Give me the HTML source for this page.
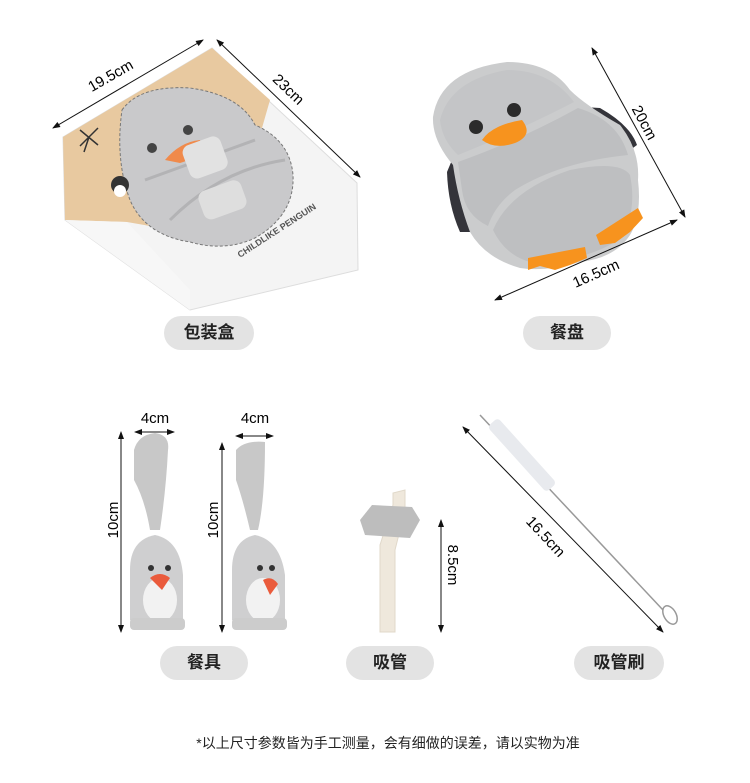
<!DOCTYPE html>
<html><head><meta charset="utf-8"><style>
body{margin:0;background:#fff;width:750px;height:783px;overflow:hidden;font-family:"Liberation Sans","Noto Sans CJK SC",sans-serif}
.pill{position:absolute;height:34px;line-height:34px;border-radius:17px;background:#e3e3e3;font-size:17px;color:#222;text-align:center;font-weight:bold}
</style></head><body>
<svg width="750" height="783" style="position:absolute;left:0;top:0" font-family="Liberation Sans, sans-serif">
<defs>
<marker id="a" markerWidth="8" markerHeight="8" refX="7" refY="4" orient="auto-start-reverse"><path d="M0,1 L8,4 L0,7z" fill="#111"/></marker>
</defs>
<!-- box -->
<polygon points="63,137 212,48 357,183 358,270 190,310 65,220" fill="#f4f4f4" stroke="#ddd"/>
<polygon points="63,137 212,48 270,100 230,240 127,222 65,220" fill="#e8c9a0"/>
<polygon points="65,220 127,222 190,290 190,310" fill="#f7f7f7"/>
<path d="M122,110 Q140,85 190,88 Q240,95 255,125 Q290,140 293,175 Q295,215 255,238 Q225,252 190,242 Q145,235 130,200 Q115,160 122,110z" fill="#c9c9cb" stroke="#777" stroke-dasharray="3,2"/>
<circle cx="152" cy="148" r="5" fill="#444"/><circle cx="188" cy="130" r="5" fill="#444"/>
<path d="M165,160 Q180,142 200,140 Q207,155 180,163z" fill="#f08a4b"/>
<path d="M145,180 Q200,160 255,140 M170,220 Q220,170 285,160" stroke="#b3b3b5" stroke-width="3" fill="none"/>
<rect x="185" y="140" width="40" height="35" rx="8" fill="#e2e2e2" transform="rotate(-20 205 157)"/>
<rect x="200" y="185" width="45" height="30" rx="8" fill="#dedede" transform="rotate(-20 222 200)"/>
<path d="M80,130 l18,15 M98,128 l-18,18 M89,137 l-5,15" stroke="#333" stroke-width="1.5"/>
<circle cx="120" cy="185" r="9" fill="#333"/><ellipse cx="120" cy="191" rx="6" ry="6" fill="#fff"/>
<text x="240" y="258" font-size="9" font-weight="bold" fill="#555" transform="rotate(-33 240 258)">CHILDLIKE PENGUIN</text>
<!-- box dims -->
<line x1="53" y1="128" x2="203" y2="40" stroke="#111" marker-start="url(#a)" marker-end="url(#a)"/>
<text x="113" y="80" font-size="15" text-anchor="middle" transform="rotate(-30 113 80)">19.5cm</text>
<line x1="217" y1="40" x2="360" y2="177" stroke="#111" marker-start="url(#a)" marker-end="url(#a)"/>
<text x="285" y="93" font-size="15" text-anchor="middle" transform="rotate(44 285 93)">23cm</text>
<!-- plate -->
<path d="M447,172 L452,160 L470,180 L470,232 L460,232 Q448,205 447,172z" fill="#34343a"/>
<path d="M583,107 L600,108 Q630,125 637,145 L630,150 Q610,130 583,125z" fill="#34343a"/>
<path d="M433,117 Q440,70 507,62 Q550,62 570,90 Q585,105 620,125 Q640,150 638,180 Q642,215 630,235 Q615,258 580,262 Q545,272 520,268 Q485,258 470,232 Q458,200 453,165 Q432,140 433,117z" fill="#cbcccd"/>
<path d="M440,120 Q450,80 507,70 Q550,70 574,102 Q520,130 458,155 Q442,140 440,120z" fill="#c4c5c7"/>
<path d="M458,162 Q520,140 578,108 Q618,120 628,155 Q560,162 515,190 Q495,205 488,226 Q465,215 462,190z" fill="#bebfc1"/>
<path d="M493,230 Q510,190 570,170 Q620,160 630,175 Q638,215 618,240 Q585,262 530,262 Q505,255 493,230z" fill="#bebfc1"/>
<circle cx="476" cy="127" r="7" fill="#2b2b2b"/><circle cx="514" cy="110" r="7" fill="#2b2b2b"/>
<path d="M482,140 Q492,125 522,120 Q534,135 515,143 Q495,150 482,140z" fill="#f7931e"/>
<path d="M528,258 L585,247 L587,258 L570,265 L555,270 L540,266 L528,270z" fill="#f7931e"/>
<path d="M596,235 L638,208 L643,218 L630,232 L615,243 L600,245z" fill="#f7931e"/>
<line x1="592" y1="48" x2="685" y2="217" stroke="#111" marker-start="url(#a)" marker-end="url(#a)"/>
<text x="640" y="125" font-size="15" text-anchor="middle" transform="rotate(62 640 125)">20cm</text>
<line x1="495" y1="300" x2="677" y2="220" stroke="#111" marker-start="url(#a)" marker-end="url(#a)"/>
<text x="598" y="278" font-size="15" text-anchor="middle" transform="rotate(-24 598 278)">16.5cm</text>
<!-- spoon -->
<line x1="121" y1="432" x2="121" y2="632" stroke="#111" marker-start="url(#a)" marker-end="url(#a)"/>
<text x="118" y="520" font-size="15" text-anchor="middle" transform="rotate(-90 118 520)">10cm</text>
<line x1="135" y1="432" x2="174" y2="432" stroke="#111" marker-start="url(#a)" marker-end="url(#a)"/>
<text x="155" y="423" font-size="15" text-anchor="middle">4cm</text>
<path d="M134,450 Q138,435 155,433 Q170,435 168,450 Q166,490 160,530 L150,530 Q145,500 134,480z" fill="#c8c8c8"/>
<path d="M130,570 Q130,540 155,535 Q180,540 183,575 L183,620 L130,620z" fill="#cfcfd0"/>
<ellipse cx="160" cy="600" rx="17" ry="22" fill="#f2f2f2"/>
<path d="M150,578 Q160,570 170,578 L162,590z" fill="#ea5b3c"/>
<circle cx="151" cy="568" r="3" fill="#333"/><circle cx="168" cy="568" r="3" fill="#333"/>
<rect x="130" y="618" width="55" height="12" rx="4" fill="#ccc"/>
<!-- fork -->
<line x1="222" y1="443" x2="222" y2="632" stroke="#111" marker-start="url(#a)" marker-end="url(#a)"/>
<text x="218" y="520" font-size="15" text-anchor="middle" transform="rotate(-90 218 520)">10cm</text>
<line x1="236" y1="436" x2="273" y2="436" stroke="#111" marker-start="url(#a)" marker-end="url(#a)"/>
<text x="255" y="423" font-size="15" text-anchor="middle">4cm</text>
<path d="M236,450 Q245,440 265,442 Q265,500 258,530 L250,530 Q243,500 236,480z" fill="#c8c8c8"/>
<path d="M232,570 Q232,540 255,535 Q280,540 285,575 L285,620 L232,620z" fill="#cfcfd0"/>
<ellipse cx="263" cy="600" rx="17" ry="22" fill="#f2f2f2"/>
<path d="M263,580 Q272,575 278,584 L270,595z" fill="#ea5b3c"/>
<circle cx="260" cy="568" r="3" fill="#333"/><circle cx="272" cy="568" r="3" fill="#333"/>
<rect x="232" y="618" width="55" height="12" rx="4" fill="#ccc"/>
<!-- straw -->
<path d="M380,632 L380,545 L393,505 L393,493 L405,490 L405,510 L395,550 L395,632z" fill="#efe8dc" stroke="#e0d8ca"/>
<polygon points="360,520 372,505 412,507 420,520 410,538 365,535" fill="#bdbdbd"/>
<line x1="441" y1="520" x2="441" y2="632" stroke="#111" marker-start="url(#a)" marker-end="url(#a)"/>
<text x="448" y="565" font-size="15" text-anchor="middle" transform="rotate(90 448 565)">8.5cm</text>
<!-- brush -->
<line x1="480" y1="415" x2="663" y2="610" stroke="#999" stroke-width="1.5"/>
<rect x="478" y="448" width="88" height="14" rx="4" fill="#e8eaee" transform="rotate(48 522 455)"/>
<ellipse cx="670" cy="615" rx="6" ry="10" fill="none" stroke="#999" stroke-width="1.5" transform="rotate(-30 670 615)"/>
<line x1="463" y1="427" x2="663" y2="632" stroke="#111" marker-start="url(#a)" marker-end="url(#a)"/>
<text x="542" y="540" font-size="15" text-anchor="middle" transform="rotate(47 542 540)">16.5cm</text>
</svg>
<div class="pill" style="left:164px;top:316px;width:90px">包装盒</div>
<div class="pill" style="left:523px;top:316px;width:88px">餐盘</div>
<div class="pill" style="left:160px;top:646px;width:88px">餐具</div>
<div class="pill" style="left:346px;top:646px;width:88px">吸管</div>
<div class="pill" style="left:574px;top:646px;width:90px">吸管刷</div>
<div style="position:absolute;left:0;width:776px;top:733px;text-align:center;font-size:14px;color:#222">*以上尺寸参数皆为手工测量，会有细做的误差，请以实物为准</div>
</body></html>
